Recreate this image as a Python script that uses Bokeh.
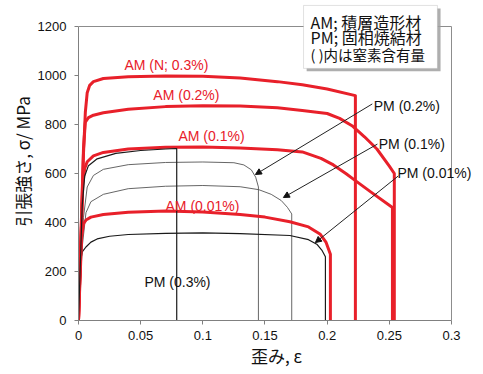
from bokeh.plotting import figure
from bokeh.models import (Range1d, FixedTicker, Arrow, NormalHead, Label, LabelSet,
                          ColumnDataSource, BoxAnnotation)
from bokeh.core.properties import value
from bokeh.embed import file_html
from bokeh.resources import INLINE

# ---- data: strain (-) / stress (MPa) ----
am_n_strain = [0, 0.004, 0.0055, 0.007, 0.009, 0.012, 0.02, 0.04, 0.07, 0.1, 0.13, 0.16, 0.18, 0.2, 0.2227, 0.2227]
am_n_stress = [0, 680, 850, 930, 960, 975, 988, 995, 998, 997, 990, 975, 962, 945, 918, 0]

am_02_strain = [0, 0.004, 0.0055, 0.008, 0.012, 0.02, 0.04, 0.07, 0.1, 0.13, 0.16, 0.18, 0.2, 0.21, 0.22, 0.23, 0.24, 0.25, 0.254, 0.254]
am_02_stress = [0, 700, 810, 828, 838, 848, 862, 873, 877, 876, 868, 857, 845, 825, 795, 750, 700, 630, 600, 0]

am_01_strain = [0, 0.0035, 0.005, 0.007, 0.012, 0.02, 0.04, 0.07, 0.1, 0.13, 0.16, 0.18, 0.195, 0.205, 0.215, 0.2227, 0.235, 0.2525, 0.2525]
am_01_stress = [0, 560, 620, 648, 672, 686, 700, 707, 708, 704, 697, 688, 662, 635, 600, 571, 525, 461, 0]

am_001_strain = [0, 0.0025, 0.004, 0.006, 0.01, 0.02, 0.04, 0.07, 0.1, 0.13, 0.15, 0.17, 0.185, 0.1945, 0.199, 0.2026, 0.2026]
am_001_stress = [0, 340, 395, 410, 422, 433, 442, 447, 443, 433, 422, 403, 382, 352, 320, 270, 0]

pm_03_strain = [0, 0.003, 0.005, 0.008, 0.015, 0.03, 0.05, 0.07, 0.079, 0.079]
pm_03_stress = [0, 470, 590, 632, 660, 682, 694, 700, 702, 0]

pm_02_strain = [0, 0.004, 0.007, 0.012, 0.02, 0.04, 0.07, 0.1, 0.125, 0.133, 0.139, 0.1425, 0.1447, 0.1447]
pm_02_stress = [0, 420, 545, 592, 617, 636, 645, 647, 644, 635, 615, 585, 545, 0]

pm_01_strain = [0, 0.003, 0.006, 0.01, 0.02, 0.04, 0.07, 0.1, 0.13, 0.145, 0.155, 0.163, 0.168, 0.1715, 0.1715]
pm_01_stress = [0, 300, 440, 485, 515, 538, 548, 551, 546, 534, 515, 490, 462, 435, 0]

pm_001_strain = [0, 0.0015, 0.003, 0.006, 0.01, 0.015, 0.025, 0.04, 0.07, 0.1, 0.13, 0.17, 0.185, 0.192, 0.196, 0.1986, 0.1986]
pm_001_stress = [0, 240, 280, 300, 320, 333, 344, 351, 356, 358, 355, 347, 330, 310, 285, 260, 0]

# curve labels
am_label_text = ["AM (N; 0.3%)", "AM (0.2%)", "AM (0.1%)", "AM (0.01%)"]
am_label_x = [0.0707, 0.0868, 0.107, 0.0997]
am_label_y = [1041, 922, 755, 469]

pm_center_text = ["PM (0.3%)"]
pm_center_x = [0.0796]
pm_center_y = [159]

pm_arrow_text = ["PM (0.2%)", "PM (0.1%)", "PM (0.01%)"]
pm_text_x = [0.2375, 0.2415, 0.2565]
pm_text_y = [876, 722, 604]
arrow_x0 = [0.2363, 0.2404, 0.2572]
arrow_y0 = [884, 720, 590]
arrow_x1 = [0.1423, 0.1648, 0.1905]
arrow_y1 = [596, 502, 318]

x_ticks = [0, 0.05, 0.1, 0.15, 0.2, 0.25, 0.3]
x_tick_labels = ["0", "0.05", "0.1", "0.15", "0.2", "0.25", "0.3"]
y_ticks = [0, 200, 400, 600, 800, 1000, 1200]

note_lines = ["AM; 積層造形材", "PM; 固相焼結材", "( )内は窒素含有量"]
note_sizes = ["16px", "16px", "14.5px"]
note_line_y = [1218, 1158, 1086]
note_text_x = 0.1866
note_left, note_right, note_top, note_bottom = 0.181, 0.2887, 1286, 1029

RED = "#e8202a"
GREY = "#8c8c8c"
LATIN = "Liberation Sans"
CJK = "Noto Sans CJK JP"

x_max = x_ticks[-1]
y_max = y_ticks[-1]

# the frame extends a little beyond the drawn plot box so that text past it stays visible
p = figure(width=475, height=370, output_backend="svg", toolbar_location=None,
           x_range=Range1d(0, 0.3185), y_range=Range1d(0, 1298),
           min_border_left=78, min_border_right=1, min_border_top=2, min_border_bottom=50)
p.background_fill_color = "white"
p.border_fill_color = "white"
p.outline_line_color = None
p.xgrid.visible = False
p.ygrid.visible = False

for ax in (p.xaxis[0], p.yaxis[0]):
    ax.axis_line_color = "#808080"
    ax.major_tick_line_color = "#808080"
    ax.minor_tick_line_color = None
    ax.major_tick_in = 0
    ax.major_tick_out = 4
    ax.major_label_text_font = LATIN
    ax.major_label_text_font_size = "13px"
    ax.major_label_text_color = "#111111"
    ax.axis_label_text_font = CJK
    ax.axis_label_text_font_size = "17px"
    ax.axis_label_text_font_style = "normal"
    ax.axis_label_text_color = "#111111"

p.xaxis.bounds = (0, x_max)
p.yaxis.bounds = (0, y_max)
p.xaxis.ticker = FixedTicker(ticks=x_ticks)
p.xaxis.major_label_overrides = {t: l for t, l in zip(x_ticks, x_tick_labels)}
p.yaxis.ticker = FixedTicker(ticks=y_ticks)
p.xaxis.major_label_standoff = 6
p.yaxis.major_label_standoff = 8
p.xaxis.axis_label = "歪み, ε"
p.yaxis.axis_label = "引張強さ, σ/ MPa"
p.xaxis.axis_label_standoff = 0
p.yaxis.axis_label_standoff = 0

# plot-area border (top and right)
p.segment(x0=[0, x_max], y0=[y_max, 0], x1=[x_max, x_max], y1=[y_max, y_max],
          line_color=GREY, line_width=1)

# PM curves (thin black / grey)
p.line(pm_02_strain, pm_02_stress, line_color="#555555", line_width=0.9)
p.line(pm_01_strain, pm_01_stress, line_color="#555555", line_width=0.9)
p.line(pm_001_strain, pm_001_stress, line_color="#1a1a1a", line_width=1.2)

# AM curves (thick red)
for xs, ys in [(am_n_strain, am_n_stress), (am_02_strain, am_02_stress),
               (am_01_strain, am_01_stress), (am_001_strain, am_001_stress)]:
    p.line(xs, ys, line_color=RED, line_width=3, line_join="round")

p.line(pm_03_strain, pm_03_stress, line_color="#1a1a1a", line_width=1.2)

# arrows
for xa, ya, xb, yb in zip(arrow_x0, arrow_y0, arrow_x1, arrow_y1):
    p.add_layout(Arrow(end=NormalHead(size=6, fill_color="#111111", line_color="#111111"),
                       x_start=xa, y_start=ya, x_end=xb, y_end=yb,
                       line_color="#222222", line_width=1))

# curve labels
am_src = ColumnDataSource(dict(x=am_label_x, y=am_label_y, text=am_label_text))
p.add_layout(LabelSet(x="x", y="y", text="text", source=am_src, text_color=RED,
                      text_font=value(LATIN), text_font_size=value("14px"),
                      text_align="center", text_baseline="middle"))
pmc_src = ColumnDataSource(dict(x=pm_center_x, y=pm_center_y, text=pm_center_text))
p.add_layout(LabelSet(x="x", y="y", text="text", source=pmc_src, text_color="#111111",
                      text_font=value(LATIN), text_font_size=value("14px"),
                      text_align="center", text_baseline="middle"))
pma_src = ColumnDataSource(dict(x=pm_text_x, y=pm_text_y, text=pm_arrow_text))
p.add_layout(LabelSet(x="x", y="y", text="text", source=pma_src, text_color="#111111",
                      text_font=value(LATIN), text_font_size=value("14px"),
                      text_align="left", text_baseline="middle"))

# note box with shadow
p.add_layout(BoxAnnotation(left=note_left + 0.0025, right=note_right + 0.0025,
                           top=note_top - 12, bottom=note_bottom - 12,
                           fill_color="#a0a0a0", fill_alpha=0.85, line_color=None))
p.add_layout(BoxAnnotation(left=note_left, right=note_right, top=note_top, bottom=note_bottom,
                           fill_color="white", fill_alpha=1.0, line_color="#9a9a9a", line_width=1))
for txt, sz, yy in zip(note_lines, note_sizes, note_line_y):
    p.add_layout(Label(x=note_text_x, y=yy, text=txt, text_font=CJK, text_font_size=sz,
                       text_color="#111111", text_align="left", text_baseline="middle"))

open("out.html", "w").write(file_html(p, INLINE))
